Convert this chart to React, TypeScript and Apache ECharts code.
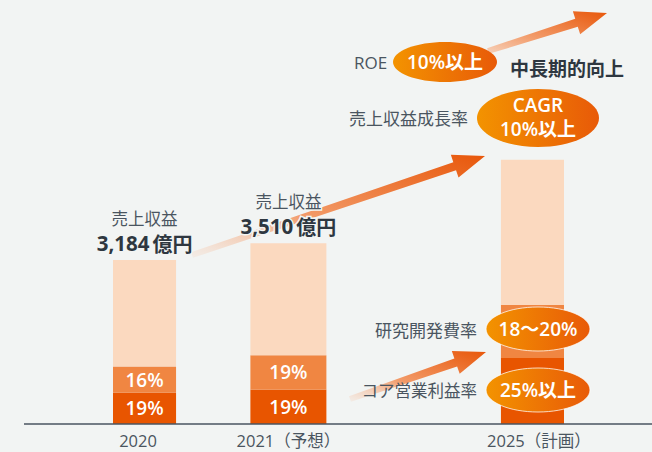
import React, { useEffect, useRef } from 'react';
import * as echarts from 'echarts';

// ---- data ----
const years = ['2020', '2021（予想）', '2025（計画）'];
const slots = [0, 3, 8]; // slot of each year on the (unevenly spaced) time line
const slotCount = 9;
const revenue = [3184, 3510, 5130]; // 売上収益（億円）
const coreMargin = [19, 19, 25]; // コア営業利益率 %
const rdRatio = [16, 19, 20]; // 研究開発費率 %
const showValues = [true, true, false];

const FONT = '"Noto Sans CJK JP", "Noto Sans", sans-serif';
const NUM_FONT = '"Open Sans", "Noto Sans CJK JP", sans-serif';
const BG = '#f2f4f3';
const TEXT = '#4a5560';
const DARK_TEXT = '#2e3740';

function arrowPoints(x1: number, y1: number, x2: number, y2: number) {
  const sw0 = 3, sw = 4.2, hl = 32, hw = 12;
  const dx = x2 - x1, dy = y2 - y1;
  const len = Math.hypot(dx, dy);
  const ux = dx / len, uy = dy / len;
  const nx = -uy, ny = ux;
  const bx = x2 - ux * hl, by = y2 - uy * hl;
  return [
    [x1 + nx * sw0, y1 + ny * sw0],
    [bx + nx * sw, by + ny * sw],
    [bx + nx * hw, by + ny * hw],
    [x2, y2],
    [bx - nx * hw, by - ny * hw],
    [bx - nx * sw, by - ny * sw],
    [x1 - nx * sw0, y1 - ny * sw0],
  ];
}

function arrowFill(start: string) {
  return new echarts.graphic.LinearGradient(0, 1, 1, 0, [
    { offset: 0, color: start },
    { offset: 0.4, color: '#f29a68' },
    { offset: 1, color: '#e8570a' },
  ]);
}

function ellipseFill() {
  return new echarts.graphic.LinearGradient(0, 0, 1, 0, [
    { offset: 0, color: '#f39300' },
    { offset: 1, color: '#e85a08' },
  ]);
}

export default function App() {
  const ref = useRef<HTMLDivElement>(null);

  useEffect(() => {
    document.body.style.margin = '0';
    const chart = echarts.init(ref.current!, undefined, { renderer: 'svg' });

    const categories: string[] = [];
    for (let i = 0; i < slotCount; i++) {
      const k = slots.indexOf(i);
      categories.push(k >= 0 ? years[k] : '');
    }
    const build = (fn: (k: number) => any) =>
      categories.map((_, i) => {
        const k = slots.indexOf(i);
        return k >= 0 ? fn(k) : '-';
      });

    const darkData = build((k) => ({
      value: (revenue[k] * coreMargin[k]) / 100,
      label: { show: showValues[k], formatter: `${coreMargin[k]}%` },
    }));
    const midData = build((k) => ({
      value: (revenue[k] * rdRatio[k]) / 100,
      label: { show: showValues[k], formatter: `${rdRatio[k]}%` },
    }));
    const lightData = build((k) => ({
      value: revenue[k] - (revenue[k] * (coreMargin[k] + rdRatio[k])) / 100,
      label: {
        show: showValues[k],
        formatter: `{a|売上収益}\n{n|${revenue[k].toLocaleString('en-US')}}{u|億円}`,
      },
    }));

    const pctLabel = {
      position: 'inside',
      color: '#ffffff',
      fontSize: 19,
      fontWeight: 600,
      fontFamily: NUM_FONT,
    };

    const ellipseText = (txt: string, size = 19) => ({
      text: txt,
      fill: '#ffffff',
      fontSize: size,
      fontWeight: 600,
      fontFamily: NUM_FONT,
    });

    const halo = { textBorderColor: BG, textBorderWidth: 3 };

    chart.setOption({
      animation: false,
      backgroundColor: BG,
      grid: { left: 113, right: 88, top: 115, bottom: 28 },
      xAxis: {
        type: 'category',
        data: categories,
        axisLine: { show: false },
        axisTick: { show: false },
        axisLabel: { color: TEXT, fontSize: 16.5, fontFamily: NUM_FONT, margin: 8, interval: 0 },
      },
      yAxis: { type: 'value', min: 0, max: 6000, show: false, splitLine: { show: false } },
      series: [
        {
          type: 'bar',
          stack: 'rev',
          barWidth: 76,
          itemStyle: { color: '#e85500' },
          label: pctLabel,
          data: darkData,
        },
        {
          type: 'bar',
          stack: 'rev',
          barWidth: 76,
          itemStyle: { color: '#f08642' },
          label: pctLabel,
          data: midData,
        },
        {
          type: 'bar',
          stack: 'rev',
          barWidth: 76,
          itemStyle: { color: '#fbd9bf' },
          label: {
            position: 'top',
            distance: 5,
            fontFamily: FONT,
            ...halo,
            rich: {
              a: { fontSize: 16.5, color: TEXT, lineHeight: 26, fontFamily: FONT, ...halo },
              n: { fontSize: 20.5, fontWeight: 'bold', color: DARK_TEXT, lineHeight: 24, fontFamily: NUM_FONT, padding: [0, 3, 0, 0], ...halo },
              u: { fontSize: 20, fontWeight: 'bold', color: DARK_TEXT, lineHeight: 24, fontFamily: FONT, ...halo },
            },
          },
          data: lightData,
        },
      ],
      graphic: [
        { type: 'line', z: 5, shape: { x1: 24, y1: 424, x2: 652, y2: 424 }, style: { stroke: '#4a5560', lineWidth: 1.5 } },
        // arrows
        { type: 'polygon', z: 1, shape: { points: arrowPoints(192, 255, 485, 156) }, style: { fill: arrowFill('rgba(246,205,180,0.2)') } },
        { type: 'polygon', z: 1, shape: { points: arrowPoints(350, 399, 486, 352) }, style: { fill: arrowFill('rgba(246,205,180,0.2)') } },
        { type: 'polygon', z: 1, shape: { points: arrowPoints(488, 51, 607, 13) }, style: { fill: arrowFill('#f7d2bb') } },
        // ROE
        { type: 'text', z: 10, x: 354, y: 62, style: { text: 'ROE', fill: TEXT, fontSize: 17, fontFamily: NUM_FONT, verticalAlign: 'middle' } },
        { type: 'ellipse', z: 10, shape: { cx: 445, cy: 62, rx: 52, ry: 20 }, style: { fill: ellipseFill() } },
        { type: 'text', z: 11, x: 445, y: 62, style: { ...ellipseText('10%以上'), align: 'center', verticalAlign: 'middle' } },
        { type: 'text', z: 10, x: 510, y: 67, style: { text: '中長期的向上', fill: DARK_TEXT, fontSize: 19, fontWeight: 'bold', fontFamily: FONT, verticalAlign: 'middle' } },
        // CAGR
        { type: 'text', z: 10, x: 468, y: 117, style: { text: '売上収益成長率', fill: TEXT, fontSize: 17, fontFamily: FONT, align: 'right', verticalAlign: 'middle' } },
        { type: 'ellipse', z: 10, shape: { cx: 538, cy: 118, rx: 61, ry: 29 }, style: { fill: ellipseFill() } },
        { type: 'text', z: 11, x: 538, y: 105, style: { ...ellipseText('CAGR'), align: 'center', verticalAlign: 'middle' } },
        { type: 'text', z: 11, x: 538, y: 129, style: { ...ellipseText('10%以上'), align: 'center', verticalAlign: 'middle' } },
        // R&D
        { type: 'text', z: 10, x: 477, y: 329, style: { text: '研究開発費率', fill: TEXT, fontSize: 17, fontFamily: FONT, align: 'right', verticalAlign: 'middle' } },
        { type: 'ellipse', z: 10, shape: { cx: 538, cy: 329, rx: 52, ry: 22 }, style: { fill: ellipseFill(), stroke: 'rgba(255,255,255,0.75)', lineWidth: 1 } },
        { type: 'text', z: 11, x: 538, y: 329, style: { ...ellipseText('18〜20%'), align: 'center', verticalAlign: 'middle' } },
        // core op margin
        { type: 'text', z: 10, x: 477, y: 390, style: { text: 'コア営業利益率', fill: TEXT, fontSize: 16.5, fontFamily: FONT, align: 'right', verticalAlign: 'middle' } },
        { type: 'ellipse', z: 10, shape: { cx: 538, cy: 390, rx: 52, ry: 22 }, style: { fill: ellipseFill(), stroke: 'rgba(255,255,255,0.75)', lineWidth: 1 } },
        { type: 'text', z: 11, x: 538, y: 390, style: { ...ellipseText('25%以上'), align: 'center', verticalAlign: 'middle' } },
      ],
    });

    return () => chart.dispose();
  }, []);

  return <div ref={ref} style={{ width: 652, height: 452 }} />;
}
